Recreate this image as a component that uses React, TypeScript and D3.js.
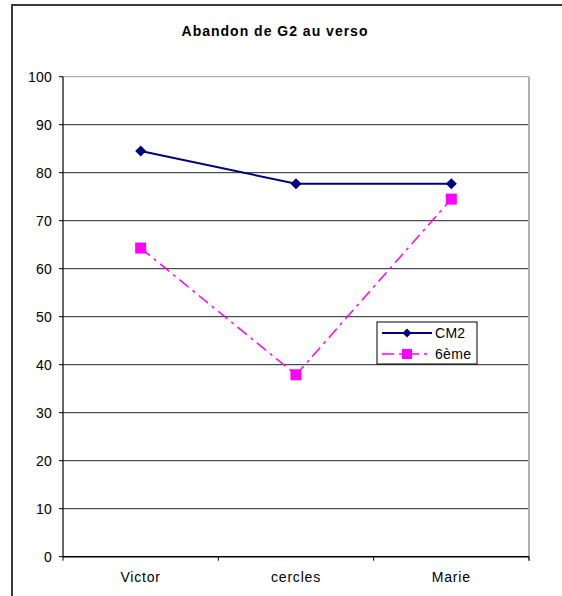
import React from "react";
import * as d3 from "d3";

const categories = ["Victor", "cercles", "Marie"];
const cm2Values = [84.5, 77.7, 77.7];
const sixiemeValues = [64.3, 37.9, 74.5];
const yTicks = [0, 10, 20, 30, 40, 50, 60, 70, 80, 90, 100];
const title = "Abandon de G2 au verso";
const seriesNames = ["CM2", "6ème"];

export default function App() {
  const W = 562, H = 596;
  const left = 63, right = 529, top = 76.7, bottom = 556.7;
  const x = d3.scaleBand<string>().domain(categories).range([left, right]);
  const y = d3.scaleLinear().domain([0, 100]).range([bottom, top]);
  const cx = (c: string) => (x(c) as number) + x.bandwidth() / 2;
  const line = d3.line<[number, number]>().x(d => d[0]).y(d => d[1]);
  const cm2Pts: [number, number][] = categories.map((c, i) => [cx(c), y(cm2Values[i])]);
  const sixPts: [number, number][] = categories.map((c, i) => [cx(c), y(sixiemeValues[i])]);
  const font = "'Liberation Sans', Arial, sans-serif";
  const diamond = (px: number, py: number, r = 5.5) =>
    `M${px},${py - r}L${px + r},${py}L${px},${py + r}L${px - r},${py}Z`;
  const boundaries = d3.range(categories.length + 1).map(i => left + i * x.bandwidth());

  return (
    <svg width={W} height={H} style={{ position: "absolute", left: 0, top: 0 }}>
      <rect x={0} y={0} width={W} height={H} fill="#fff" />
      <rect x={12} y={5} width={W + 20} height={H + 20} fill="none" stroke="#3a3a3a" strokeWidth={2} />
      <text x={275} y={36} textAnchor="middle" fontFamily={font} fontWeight="bold" fontSize={14} letterSpacing={1}>{title}</text>
      {/* gridlines */}
      {yTicks.filter(t => t > 0).map(t => (
        <line key={t} x1={left} x2={right} y1={y(t)} y2={y(t)} stroke={t === 100 ? "#9a9a9a" : "#222"} strokeWidth={1} />
      ))}
      {/* plot border right */}
      <line x1={right} x2={right} y1={top} y2={bottom + 4} stroke="#b0b0b0" strokeWidth={2} />
      {/* y axis */}
      <line x1={left} x2={left} y1={top} y2={bottom} stroke="#000" strokeWidth={1.2} />
      {yTicks.map(t => (
        <g key={t}>
          <line x1={left - 4} x2={left} y1={y(t)} y2={y(t)} stroke="#000" />
          <text x={52} y={y(t) + 5} textAnchor="end" fontFamily={font} fontSize={14} letterSpacing={0.2}>{t}</text>
        </g>
      ))}
      {/* x axis */}
      <line x1={left} x2={right} y1={bottom} y2={bottom} stroke="#000" strokeWidth={1.5} />
      {boundaries.map((b, i) => (
        <line key={i} x1={b} x2={b} y1={bottom} y2={bottom + 4} stroke="#000" />
      ))}
      {categories.map(c => (
        <text key={c} x={cx(c)} y={582} textAnchor="middle" fontFamily={font} fontSize={14} letterSpacing={0.8}>{c}</text>
      ))}
      {/* series */}
      <path d={line(sixPts) || ""} fill="none" stroke="#ff00ff" strokeWidth={1.5} strokeDasharray="12,5,3,5" />
      {sixPts.map((p, i) => (
        <rect key={i} x={p[0] - 5.5} y={p[1] - 5.5} width={11} height={11} fill="#ff00ff" />
      ))}
      <path d={line(cm2Pts) || ""} fill="none" stroke="#000080" strokeWidth={2} />
      {cm2Pts.map((p, i) => (
        <path key={i} d={diamond(p[0], p[1])} fill="#000080" />
      ))}
      {/* legend */}
      <rect x={377} y={322} width={100} height={42} fill="#fff" stroke="#000" strokeWidth={1} />
      <line x1={382} x2={432} y1={333} y2={333} stroke="#000080" strokeWidth={2} />
      <path d={diamond(407, 333, 4.5)} fill="#000080" />
      <text x={435} y={338} fontFamily={font} fontSize={14} letterSpacing={0.3}>{seriesNames[0]}</text>
      <line x1={382} x2={432} y1={354} y2={354} stroke="#ff00ff" strokeWidth={1.5} strokeDasharray="12,5,3,5" />
      <rect x={402} y={349} width={10} height={10} fill="#ff00ff" />
      <text x={435} y={359} fontFamily={font} fontSize={14} letterSpacing={0.3}>{seriesNames[1]}</text>
    </svg>
  );
}
